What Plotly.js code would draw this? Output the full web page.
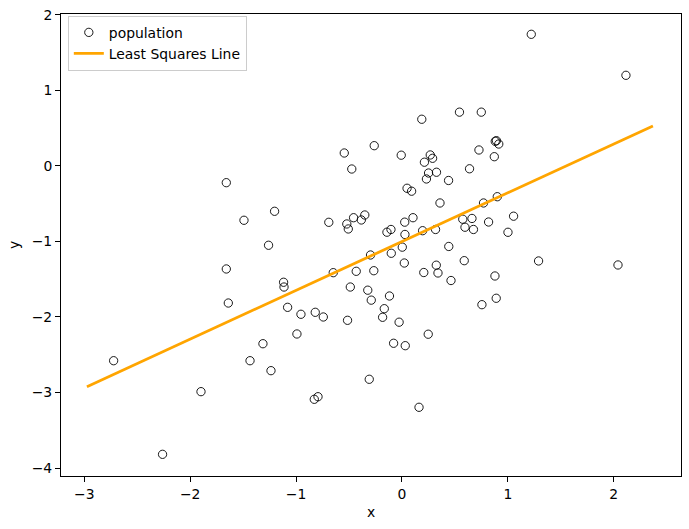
<!DOCTYPE html>
<html>
<head>
<meta charset="utf-8">
<script src="https://cdn.plot.ly/plotly-3.0.1.min.js"></script>
<style>html,body{margin:0;padding:0;background:#fff;}#chart{width:689px;height:529px;}</style>
</head>
<body>
<div id="chart"></div>
<script>
// Population sample (x, y)
const popX = [-2.723,-2.261,-1.898,-1.659,-1.659,-1.640,-1.492,-1.435,-1.313,-1.260,
  -1.237,-1.203,-1.118,-1.114,-1.080,-0.992,-0.954,-0.819,-0.743,-0.828,
  -0.793,-0.691,-0.649,-0.545,-0.521,-0.507,-0.514,-0.488,-0.474,-0.457,
  -0.432,-0.384,-0.351,-0.323,-0.309,-0.297,-0.290,-0.266,-0.262,-0.183,
  -0.167,-0.142,-0.118,-0.104,-0.101,-0.079,-0.027,-0.007,0.003,0.022,
  0.026,0.028,0.031,0.048,0.091,0.104,0.161,0.187,0.195,0.206,
  0.212,0.231,0.251,0.248,0.267,0.289,0.317,0.324,0.340,0.326,
  0.359,0.440,0.442,0.463,0.543,0.574,0.595,0.588,0.638,0.661,
  0.675,0.727,0.749,0.755,0.770,0.818,0.872,0.878,0.881,0.892,
  0.914,0.890,0.900,1.001,1.054,1.221,1.290,2.040,2.115];
const popY = [-2.579,-3.819,-2.989,-0.221,-1.364,-1.815,-0.719,-2.579,-2.354,-1.050,
  -2.711,-0.600,-1.540,-1.603,-1.872,-2.225,-1.964,-1.938,-2.000,-3.090,
  -3.056,-0.746,-1.413,0.172,-0.768,-0.834,-2.044,-1.603,-0.040,-0.685,
  -1.395,-0.715,-0.649,-1.645,-2.825,-1.179,-1.777,-1.387,0.269,-2.004,
  -1.890,-0.877,-1.722,-0.841,-1.156,-2.348,-2.069,0.143,-1.075,-1.285,
  -0.744,-0.907,-2.380,-0.295,-0.334,-0.685,-3.196,0.619,-0.857,-1.411,
  0.050,-0.172,-0.093,-2.228,0.146,0.102,-0.841,-1.314,-1.417,-0.083,
  -0.490,-0.192,-1.066,-1.517,0.713,-0.705,-0.811,-1.254,-0.037,-0.695,
  -0.841,0.212,0.713,-1.837,-0.490,-0.742,0.123,-1.457,0.327,0.335,
  0.291,-1.752,-0.407,-0.878,-0.665,1.744,-1.258,-1.311,1.201];
// Least squares line endpoints
const lineX = [-2.975, 2.370];
const lineY = [-2.923, 0.530];

const font = 'DejaVu Sans, sans-serif';
const data = [
  {x: popX, y: popY, type: 'scatter', mode: 'markers', name: 'population',
   marker: {symbol: 'circle-open', size: 8.3, color: '#000', line: {width: 0.9, color: '#000'}}},
  {x: lineX, y: lineY, type: 'scatter', mode: 'lines', name: 'Least Squares Line',
   line: {color: '#FFA500', width: 2.8}}
];
const axisCommon = {
  showgrid: false, zeroline: false, showline: true, mirror: true,
  linecolor: '#000', linewidth: 1, ticks: 'outside', ticklen: 5, tickwidth: 1,
  tickcolor: '#000', tickfont: {family: font, size: 13.9, color: '#000'}, dtick: 1,
  automargin: false
};
const layout = {
  width: 689, height: 529, autosize: false,
  margin: {l: 61, r: 8, t: 14, b: 53, pad: 0},
  paper_bgcolor: '#fff', plot_bgcolor: '#fff',
  font: {family: font, size: 13.9, color: '#000'},
  showlegend: true,
  legend: {x: 0.011, y: 0.996, xanchor: 'left', yanchor: 'top',
    bgcolor: 'rgba(255,255,255,0.8)', bordercolor: '#cccccc', borderwidth: 1,
    font: {family: font, size: 13.9, color: '#000'}},
  xaxis: Object.assign({}, axisCommon, {range: [-3.22, 2.635], tick0: 0,
    title: {text: 'x', font: {family: font, size: 13.9, color: '#000'}, standoff: 6}}),
  yaxis: Object.assign({}, axisCommon, {range: [-4.106, 2.013], tick0: 0,
    title: {text: 'y', font: {family: font, size: 13.9, color: '#000'}, standoff: 8}})
};
Plotly.newPlot('chart', data, layout, {staticPlot: true, displayModeBar: false});
</script>
</body>
</html>
